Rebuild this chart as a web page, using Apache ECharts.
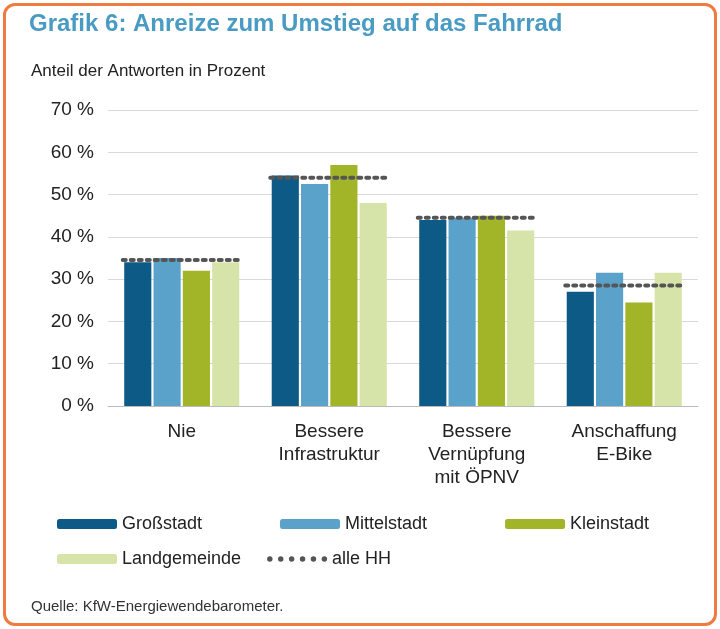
<!DOCTYPE html>
<html><head><meta charset="utf-8">
<script src="https://cdn.jsdelivr.net/npm/echarts@6/dist/echarts.min.js"></script>
<style>
html,body{margin:0;padding:0;background:#fff;}
#frame{position:absolute;left:3px;top:3px;width:708px;height:617px;border:3px solid #ef7b3e;border-radius:12px;}
#main{position:absolute;left:0;top:0;width:720px;height:629px;}
</style></head>
<body><div id="frame"></div><div id="main"></div>
<script>
var categories = ['Nie', 'Bessere\nInfrastruktur', 'Bessere\nVernüpfung\nmit ÖPNV', 'Anschaffung\nE-Bike'];
var grossstadt = [34, 54.5, 44, 27];
var mittelstadt = [35, 52.5, 44.5, 31.5];
var kleinstadt = [32, 57, 45, 24.5];
var landgemeinde = [34, 48, 41.5, 31.5];
var alleHH = [34.5, 54, 44.5, 28.5];
var yTicks = [0, 10, 20, 30, 40, 50, 60, 70];

var myChart = echarts.init(document.getElementById('main'));
var font = 'Liberation Sans, Arial, sans-serif';
var dotIcon = 'path://M3,0a3,3 0 1,0 0.01,0z M15,0a3,3 0 1,0 0.01,0z M27,0a3,3 0 1,0 0.01,0z M39,0a3,3 0 1,0 0.01,0z M51,0a3,3 0 1,0 0.01,0z M63,0a3,3 0 1,0 0.01,0z';

function bar(name, data, color) {
    return { name: name, type: 'bar', data: data, itemStyle: { color: color },
        barGap: '8%', barCategoryGap: '22%' };
}

var option = {
    textStyle: { fontFamily: font },
    title: [
        { text: 'Grafik 6: Anreize zum Umstieg auf das Fahrrad', left: 24, top: 7,
          textStyle: { color: '#4a9bc4', fontSize: 24, fontWeight: 'bold', fontFamily: font } },
        { text: 'Anteil der Antworten in Prozent', left: 26, top: 58,
          textStyle: { color: '#222', fontSize: 17, fontWeight: 'normal', fontFamily: font } },
        { text: 'Quelle: KfW-Energiewendebarometer.', left: 26, top: 594,
          textStyle: { color: '#333', fontSize: 15, fontWeight: 'normal', fontFamily: font } }
    ],
    legend: [
        { data: ['Großstadt', 'Mittelstadt', 'Kleinstadt'], left: 52, top: 510, itemWidth: 60, itemHeight: 10,
          itemGap: 78, textStyle: { fontSize: 18, color: '#222' } },
        { data: ['Landgemeinde', { name: 'alle HH', icon: dotIcon }], left: 52, top: 545, itemWidth: 60, itemHeight: 10,
          itemGap: 26, textStyle: { fontSize: 18, color: '#222' } }
    ],
    grid: { left: 108, right: 22, top: 110, bottom: 223 },
    xAxis: {
        type: 'category', data: categories,
        axisLine: { lineStyle: { color: '#bbb' } }, axisTick: { show: false },
        axisLabel: { fontSize: 19, color: '#222', lineHeight: 23, margin: 14 }
    },
    yAxis: {
        type: 'value', min: 0, max: 70, interval: 10,
        axisLabel: { fontSize: 19, color: '#222', margin: 14,
            formatter: function (v) { return yTicks.indexOf(v) >= 0 ? v + ' %' : ''; } },
        splitLine: { lineStyle: { color: '#d9d9d9' } }
    },
    series: [
        bar('Großstadt', grossstadt, '#0e5a87'),
        bar('Mittelstadt', mittelstadt, '#5aa2c9'),
        bar('Kleinstadt', kleinstadt, '#a2b428'),
        bar('Landgemeinde', landgemeinde, '#d7e4a9'),
        {
            name: 'alle HH', type: 'custom', data: alleHH.map(function (v, i) { return [i, v]; }),
            itemStyle: { color: '#555' }, z: 5,
            renderItem: function (params, api) {
                var p = api.coord([api.value(0), api.value(1)]);
                var w = api.size([1, 0])[0] * 0.4;
                return { type: 'line', shape: { x1: p[0] - w, y1: p[1], x2: p[0] + w, y2: p[1] },
                    style: { stroke: '#555', lineWidth: 4, lineDash: [3, 5], lineCap: 'round' } };
            }
        }
    ]
};
myChart.setOption(option);
</script></body></html>
